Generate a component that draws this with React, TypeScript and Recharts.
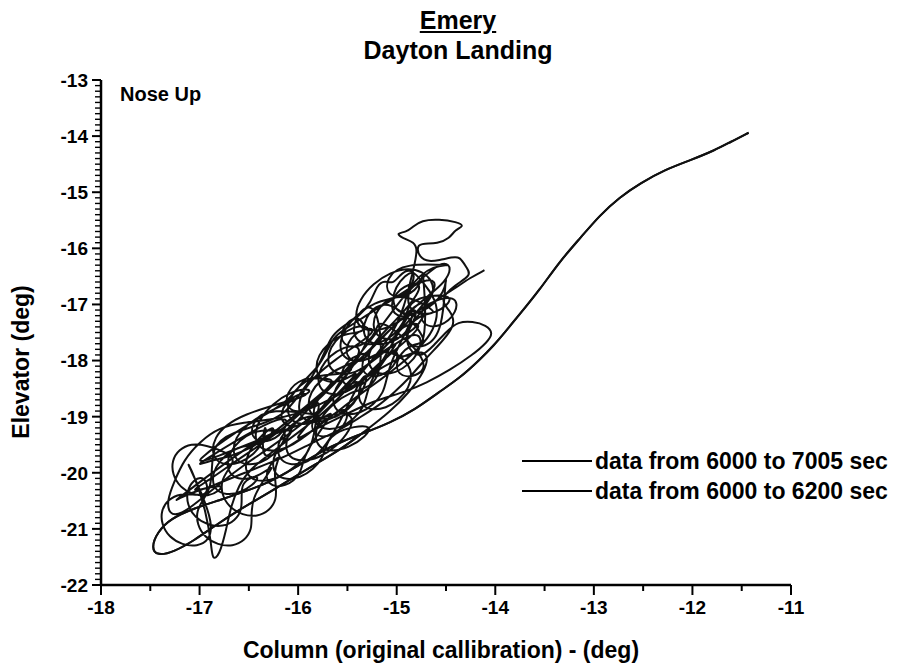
import React from 'react';
import { ScatterChart, Scatter, XAxis, YAxis } from 'recharts';

// axis ticks (deg)
const xMajorTicks = [-18, -17, -16, -15, -14, -13, -12, -11];
const yMajorTicks = [-22, -21, -20, -19, -18, -17, -16, -15, -14, -13];

// [column, elevator] in deg
// descent on the straight line and the first swings (6000 - 6200 sec)
const approach: number[][] = [
  [-11.43, -13.94], [-11.62, -14.11], [-11.77, -14.25], [-12.02, -14.43], [-12.28, -14.6],
  [-12.53, -14.84], [-12.74, -15.09], [-12.94, -15.41], [-13.14, -15.82], [-13.35, -16.24],
  [-13.55, -16.74], [-13.75, -17.17], [-13.9, -17.49], [-14.01, -17.72], [-14.16, -17.99],
  [-14.36, -18.31], [-14.57, -18.56], [-14.82, -18.88], [-15.07, -19.11], [-15.33, -19.29],
  [-15.53, -19.42], [-15.78, -19.63], [-16.04, -19.92], [-16.29, -20.17], [-16.55, -20.34],
  [-16.8, -20.49], [-17.05, -20.63], [-17.29, -20.81], [-17.43, -21.06], [-17.49, -21.34],
  [-17.43, -21.48], [-17.26, -21.41], [-17.05, -21.2], [-16.85, -20.95], [-16.6, -20.66],
  [-16.34, -20.4], [-16.09, -20.13], [-15.84, -19.86], [-15.58, -19.6], [-15.33, -19.27],
];

// long swings across the band
const swingsA: number[][] = [
  [-15.07, -18.92], [-14.87, -18.56], [-14.72, -18.2], [-14.67, -17.9], [-14.79, -17.81],
  [-15.02, -17.99], [-15.28, -18.26], [-15.53, -18.56], [-15.78, -18.79], [-16.04, -18.97],
  [-16.29, -19.06], [-16.55, -19.1], [-16.8, -19.19], [-17.0, -19.45], [-17.16, -19.77],
  [-17.26, -20.17], [-17.33, -20.49], [-17.31, -20.75], [-17.19, -20.75], [-17.0, -20.49],
  [-16.78, -20.17], [-16.55, -19.86], [-16.29, -19.56], [-16.04, -19.24], [-15.78, -18.88],
  [-15.53, -18.49], [-15.3, -18.08], [-15.07, -17.67], [-14.87, -17.28], [-14.69, -16.92],
  [-14.59, -16.65], [-14.65, -16.53], [-14.82, -16.65], [-15.02, -16.89], [-15.26, -17.14],
  [-15.46, -17.37], [-15.63, -17.55], [-15.7, -17.81], [-15.8, -18.13], [-15.96, -18.38],
  [-16.09, -18.7], [-16.29, -18.92], [-16.52, -19.15], [-16.75, -19.42], [-16.95, -19.68],
  [-17.11, -19.95],
];

// oscillations, first pass
const loopsA: number[][] = [
  [-15.42, -18.68], [-15.43, -19.25], [-15.79, -19.81], [-16.14, -19.8], [-16.13, -19.23], [-15.77, -18.67],
  [-15.26, -17.75], [-15.54, -17.7], [-15.81, -18.12], [-15.8, -18.59], [-15.52, -18.64], [-15.25, -18.22],
  [-14.99, -17.71], [-14.98, -18.03], [-15.16, -18.31], [-15.35, -18.27], [-15.36, -17.95], [-15.18, -17.67],
  [-14.7, -16.77], [-14.69, -17.24], [-14.96, -17.66], [-15.24, -17.61], [-15.25, -17.14], [-14.98, -16.72],
  [-14.54, -17.18], [-14.73, -17.14], [-14.91, -17.42], [-14.9, -17.74], [-14.71, -17.78], [-14.53, -17.5],
  [-14.5, -16.32], [-14.49, -16.79], [-14.76, -17.21], [-15.04, -17.16], [-15.05, -16.69], [-14.78, -16.27],
  [-14.87, -16.9], [-15.22, -16.89], [-15.58, -17.45], [-15.59, -18.02], [-15.24, -18.03], [-14.88, -17.47],
  [-15.31, -18.37], [-15.3, -18.84], [-15.57, -19.26], [-15.85, -19.21], [-15.86, -18.74], [-15.59, -18.32],
  [-15.76, -18.33], [-15.95, -18.29], [-16.13, -18.57], [-16.12, -18.89], [-15.93, -18.93], [-15.75, -18.65],
  [-15.83, -19.04], [-15.84, -19.61], [-16.2, -20.17], [-16.55, -20.16], [-16.54, -19.59], [-16.18, -19.03],
  [-16.33, -19.53], [-16.61, -19.48], [-16.88, -19.9], [-16.87, -20.37], [-16.59, -20.42], [-16.32, -20.0],
  [-16.62, -20.14], [-16.53, -20.68], [-16.75, -21.03], [-17.08, -20.84], [-17.17, -20.3], [-16.95, -19.95],
  [-16.88, -20.49], [-17.21, -20.3], [-17.43, -20.65], [-17.34, -21.19], [-17.01, -21.38], [-16.79, -21.03],
];

// left lobes, climb to the small knot at the top and the right fringe
const knot: number[][] = [
  [-17.18, -19.63], [-17.05, -20.04], [-16.93, -20.72], [-16.88, -21.29], [-16.87, -21.56],
  [-16.8, -21.48], [-16.73, -21.02], [-16.68, -20.58], [-16.6, -20.22], [-16.5, -19.95],
  [-16.24, -19.6], [-15.99, -19.27], [-15.73, -18.92], [-15.53, -18.56], [-15.33, -18.17],
  [-15.17, -17.81], [-15.02, -17.46], [-14.92, -17.01], [-14.87, -16.65], [-14.82, -16.3],
  [-14.79, -16.03], [-14.82, -15.89], [-14.94, -15.82], [-15.01, -15.73], [-14.9, -15.71],
  [-14.84, -15.62], [-14.75, -15.5], [-14.57, -15.48], [-14.39, -15.53], [-14.31, -15.6],
  [-14.41, -15.67], [-14.46, -15.82], [-14.59, -15.92], [-14.72, -15.91], [-14.8, -15.94],
  [-14.77, -16.17], [-14.67, -16.24], [-14.57, -16.21], [-14.44, -16.16], [-14.36, -16.14],
  [-14.29, -16.35], [-14.24, -16.48], [-14.41, -16.65], [-14.57, -16.92], [-14.46, -17.1],
  [-14.41, -17.31], [-14.46, -17.49], [-14.57, -17.72], [-14.72, -17.99], [-14.87, -18.31],
  [-15.02, -18.56], [-15.17, -18.79], [-15.38, -19.02], [-15.58, -19.24], [-15.84, -19.45],
  [-16.09, -19.68], [-16.34, -19.86], [-16.6, -20.04], [-16.85, -20.22], [-17.05, -20.34],
  [-17.21, -20.45], [-17.31, -20.58],
];

// oscillations, second pass
const loopsB: number[][] = [
  [-16.12, -19.0], [-16.11, -19.47], [-16.38, -19.89], [-16.66, -19.84], [-16.67, -19.37], [-16.4, -18.95],
  [-15.73, -18.5], [-16.08, -18.49], [-16.44, -19.05], [-16.45, -19.62], [-16.1, -19.63], [-15.74, -19.07],
  [-15.5, -18.78], [-15.49, -19.1], [-15.67, -19.38], [-15.86, -19.34], [-15.87, -19.02], [-15.69, -18.74],
  [-15.16, -17.39], [-15.44, -17.34], [-15.71, -17.76], [-15.7, -18.23], [-15.42, -18.28], [-15.15, -17.86],
  [-14.75, -17.39], [-14.74, -17.86], [-15.01, -18.28], [-15.29, -18.23], [-15.3, -17.76], [-15.03, -17.34],
  [-14.69, -16.64], [-14.88, -16.6], [-15.06, -16.88], [-15.05, -17.2], [-14.86, -17.24], [-14.68, -16.96],
  [-14.39, -16.82], [-14.38, -17.14], [-14.56, -17.42], [-14.75, -17.38], [-14.76, -17.06], [-14.58, -16.78],
  [-14.71, -16.36], [-15.06, -16.35], [-15.42, -16.91], [-15.43, -17.48], [-15.08, -17.49], [-14.72, -16.93],
  [-15.11, -18.11], [-15.1, -18.58], [-15.37, -19.0], [-15.65, -18.95], [-15.66, -18.48], [-15.39, -18.06],
  [-15.57, -18.28], [-15.85, -18.23], [-16.12, -18.65], [-16.11, -19.12], [-15.83, -19.17], [-15.56, -18.75],
  [-15.96, -19.67], [-15.95, -19.99], [-16.13, -20.27], [-16.32, -20.23], [-16.33, -19.91], [-16.15, -19.63],
  [-16.27, -19.96], [-16.18, -20.5], [-16.4, -20.85], [-16.73, -20.66], [-16.82, -20.12], [-16.6, -19.77],
  [-16.77, -19.6], [-17.1, -19.41], [-17.32, -19.76], [-17.23, -20.3], [-16.9, -20.49], [-16.68, -20.14],
];

const swingsB: number[][] = [
  [-17.16, -20.4], [-16.9, -20.13], [-16.65, -19.81], [-16.39, -19.51], [-16.14, -19.2],
  [-15.94, -18.88], [-15.73, -18.56], [-15.53, -18.2], [-15.36, -17.85], [-15.2, -17.49],
  [-15.05, -17.14], [-14.92, -16.83], [-14.77, -16.57], [-14.62, -16.35], [-14.51, -16.24],
  [-14.44, -16.35], [-14.51, -16.6], [-14.67, -16.83], [-14.85, -17.1], [-15.02, -17.37],
  [-15.2, -17.67], [-15.38, -17.99], [-15.58, -18.31], [-15.78, -18.61], [-15.99, -18.92],
  [-16.19, -19.2], [-16.37, -19.45], [-16.57, -19.63], [-16.75, -19.74], [-16.95, -19.81],
  [-17.09, -19.92],
];

// oscillations, third pass
const loopsC: number[][] = [
  [-16.11, -18.87], [-16.1, -19.19], [-16.28, -19.47], [-16.47, -19.43], [-16.48, -19.11], [-16.3, -18.83],
  [-15.67, -19.0], [-15.95, -18.95], [-16.22, -19.37], [-16.21, -19.84], [-15.93, -19.89], [-15.66, -19.47],
  [-15.29, -17.99], [-15.3, -18.56], [-15.66, -19.12], [-16.01, -19.11], [-16.0, -18.54], [-15.64, -17.98],
  [-15.15, -17.44], [-15.34, -17.4], [-15.52, -17.68], [-15.51, -18.0], [-15.32, -18.04], [-15.14, -17.76],
  [-14.85, -18.02], [-14.84, -18.49], [-15.11, -18.91], [-15.39, -18.86], [-15.4, -18.39], [-15.13, -17.97],
  [-14.69, -17.35], [-14.88, -17.31], [-15.06, -17.59], [-15.05, -17.91], [-14.86, -17.95], [-14.68, -17.67],
  [-14.74, -16.29], [-14.73, -16.61], [-14.91, -16.89], [-15.1, -16.85], [-15.11, -16.53], [-14.93, -16.25],
  [-14.35, -16.32], [-14.63, -16.27], [-14.9, -16.69], [-14.89, -17.16], [-14.61, -17.21], [-14.34, -16.79],
  [-14.9, -16.86], [-14.89, -17.33], [-15.16, -17.75], [-15.44, -17.7], [-15.45, -17.23], [-15.18, -16.81],
  [-15.12, -18.5], [-15.47, -18.49], [-15.83, -19.05], [-15.84, -19.62], [-15.49, -19.63], [-15.13, -19.07],
  [-15.72, -19.26], [-15.71, -19.73], [-15.98, -20.15], [-16.26, -20.1], [-16.27, -19.63], [-16.0, -19.21],
  [-16.18, -19.26], [-16.46, -19.21], [-16.73, -19.63], [-16.72, -20.1], [-16.44, -20.15], [-16.17, -19.73],
  [-16.52, -20.49], [-16.43, -21.03], [-16.65, -21.38], [-16.98, -21.19], [-17.07, -20.65], [-16.85, -20.3],
];

// upper left edge of the band
const edge: number[][] = [
  [-16.9, -19.51], [-16.65, -19.27], [-16.39, -19.15], [-16.14, -18.97], [-15.99, -18.61],
  [-15.84, -18.26], [-15.73, -17.85], [-15.66, -17.55], [-15.53, -17.37], [-15.38, -17.21],
  [-15.26, -16.96], [-15.2, -16.65], [-15.12, -16.57], [-15.04, -16.64], [-14.97, -16.48],
  [-14.87, -16.35], [-14.77, -16.53], [-14.67, -16.74], [-14.57, -17.06], [-14.62, -17.46],
  [-14.77, -17.78], [-14.97, -18.08], [-15.17, -18.35], [-15.38, -18.61], [-15.58, -18.88],
  [-15.78, -19.15], [-15.99, -19.42], [-16.19, -19.63], [-16.39, -19.81],
];

// oscillations, last pass
const loopsD: number[][] = [
  [-16.33, -19.0], [-16.32, -19.47], [-16.59, -19.89], [-16.87, -19.84], [-16.88, -19.37], [-16.61, -18.95],
  [-15.81, -18.6], [-16.0, -18.56], [-16.18, -18.84], [-16.17, -19.16], [-15.98, -19.2], [-15.8, -18.92],
  [-15.36, -18.19], [-15.35, -18.66], [-15.62, -19.08], [-15.9, -19.03], [-15.91, -18.56], [-15.64, -18.14],
  [-15.2, -17.89], [-15.39, -17.85], [-15.57, -18.13], [-15.56, -18.45], [-15.37, -18.49], [-15.19, -18.21],
  [-14.8, -16.86], [-14.79, -17.33], [-15.06, -17.75], [-15.34, -17.7], [-15.35, -17.23], [-15.08, -16.81],
  [-14.64, -17.71], [-14.83, -17.67], [-15.01, -17.95], [-15.0, -18.27], [-14.81, -18.31], [-14.63, -18.03],
  [-15.2, -17.18], [-15.19, -17.5], [-15.37, -17.78], [-15.56, -17.74], [-15.57, -17.42], [-15.39, -17.14],
  [-15.28, -17.53], [-15.56, -17.48], [-15.83, -17.9], [-15.82, -18.37], [-15.54, -18.42], [-15.27, -18.0],
];

// the wide loop on the right and the final stroke
const finish: number[][] = [
  [-16.14, -19.56], [-15.89, -19.27], [-15.58, -19.02], [-15.33, -18.79], [-15.1, -18.65],
  [-14.92, -18.56], [-14.7, -18.4], [-14.46, -18.17], [-14.23, -17.9], [-14.08, -17.67],
  [-14.02, -17.51], [-14.09, -17.37], [-14.23, -17.3], [-14.38, -17.31], [-14.48, -17.46],
  [-14.62, -17.72], [-14.77, -17.99], [-14.92, -17.72], [-14.87, -17.37], [-14.72, -17.06],
  [-14.57, -16.89], [-14.39, -16.69], [-14.26, -16.53], [-14.11, -16.39],
];

const legendLabels = ['data from 6000 to 7005 sec', 'data from 6000 to 6200 sec'];

const FONT = '"Liberation Sans", Arial, Helvetica, sans-serif';

const toPoints = (rows: number[][]) => rows.map(([x, y]) => ({ x, y }));
const fullRun = toPoints([
  ...approach, ...swingsA, ...loopsA, ...knot, ...loopsB, ...swingsB, ...loopsC, ...edge, ...loopsD, ...finish,
]);
const shortRun = toPoints(approach);

// minor ticks: tenths on the elevator axis, halves on the column axis
const yTicks: number[] = [];
for (let i = 0; i < yMajorTicks.length - 1; i++) {
  for (let k = 0; k < 10; k++) yTicks.push(Math.round((yMajorTicks[i] + k / 10) * 10) / 10);
}
yTicks.push(yMajorTicks[yMajorTicks.length - 1]);
const xTicks: number[] = [];
xMajorTicks.forEach((t, i) => {
  xTicks.push(t);
  if (i < xMajorTicks.length - 1) xTicks.push(t + 0.5);
});

const isMajor = (v: number) => Math.abs(v - Math.round(v)) < 1e-6;

const YTick = (props: any) => {
  const { x, y, payload } = props;
  const v = payload.value;
  const major = isMajor(v);
  return (
    <g>
      <line x1={x - (major ? 9 : 6)} y1={y} x2={x} y2={y} stroke="#000" strokeWidth={major ? 2 : 1.4} />
      {major && (
        <text x={x - 13} y={y} dy="0.36em" textAnchor="end" fontFamily={FONT} fontWeight="bold" fontSize={19} fill="#000">
          {v}
        </text>
      )}
    </g>
  );
};

const XTick = (props: any) => {
  const { x, y, payload } = props;
  const v = payload.value;
  const major = isMajor(v);
  return (
    <g>
      <line x1={x} y1={y} x2={x} y2={y + (major ? 10 : 6)} stroke="#000" strokeWidth={2} />
      {major && (
        <text x={x} y={y + 29} textAnchor="middle" fontFamily={FONT} fontWeight="bold" fontSize={19} fill="#000">
          {v}
        </text>
      )}
    </g>
  );
};

const noDot = () => <g />;

const traceLine = { stroke: '#111', strokeWidth: 2, strokeLinejoin: 'round', fill: 'none' } as any;

const textStyle: React.CSSProperties = {
  position: 'absolute',
  fontFamily: FONT,
  fontWeight: 'bold',
  color: '#000',
  whiteSpace: 'nowrap',
};

export default function App() {
  return (
    <div style={{ position: 'absolute', left: 0, top: 0, width: 917, height: 671, background: '#fff' }}>
      <ScatterChart width={917} height={671} margin={{ top: 80, right: 126, bottom: 46, left: 41 }}>
        <XAxis
          type="number"
          dataKey="x"
          domain={[-18, -11]}
          ticks={xTicks}
          interval={0}
          height={40}
          tickSize={0}
          tickMargin={0}
          tick={<XTick />}
          axisLine={{ stroke: '#000', strokeWidth: 2.5 }}
        />
        <YAxis
          type="number"
          dataKey="y"
          domain={[-22, -13]}
          ticks={yTicks}
          interval={0}
          width={60}
          tickSize={0}
          tickMargin={0}
          tick={<YTick />}
          axisLine={{ stroke: '#000', strokeWidth: 2.5 }}
        />
        <Scatter
          name={legendLabels[0]}
          data={fullRun}
          line={traceLine}
          lineType="joint"
          lineJointType="basis"
          shape={noDot}
          legendType="none"
          isAnimationActive={false}
        />
        <Scatter
          name={legendLabels[1]}
          data={shortRun}
          line={traceLine}
          lineType="joint"
          lineJointType="basis"
          shape={noDot}
          legendType="none"
          isAnimationActive={false}
        />
      </ScatterChart>

      <div style={{ ...textStyle, left: 358, width: 200, top: 8, textAlign: 'center', fontSize: 25, lineHeight: '25px', textDecoration: 'underline' }}>
        Emery
      </div>
      <div style={{ ...textStyle, left: 358, width: 200, top: 38, textAlign: 'center', fontSize: 25, lineHeight: '25px' }}>
        Dayton Landing
      </div>

      <div style={{ ...textStyle, left: 120, top: 84, fontSize: 20, lineHeight: '20px' }}>Nose Up</div>

      <div
        style={{
          ...textStyle,
          left: 21 - 100,
          top: 362 - 12,
          width: 200,
          textAlign: 'center',
          fontSize: 23,
          lineHeight: '24px',
          transform: 'rotate(-90deg)',
        }}
      >
        Elevator (deg)
      </div>
      <div style={{ ...textStyle, left: 241, width: 400, top: 638, textAlign: 'center', fontSize: 23, lineHeight: '24px' }}>
        Column (original callibration) - (deg)
      </div>

      {legendLabels.map((label, i) => (
        <div key={label} style={{ ...textStyle, left: 522, top: 449 + i * 30, height: 24, display: 'flex', alignItems: 'center', fontSize: 23, lineHeight: '24px' }}>
          <span style={{ display: 'inline-block', width: 70, height: 2, background: '#000', marginRight: 3 }} />
          {label}
        </div>
      ))}
    </div>
  );
}
